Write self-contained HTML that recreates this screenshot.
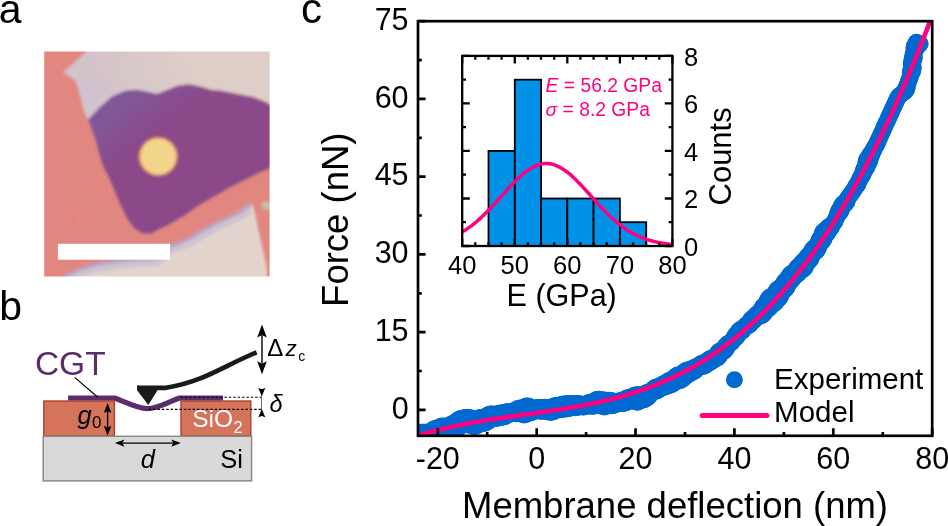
<!DOCTYPE html>
<html><head><meta charset="utf-8"><style>
html,body{margin:0;padding:0;background:#fff;}
body{width:948px;height:526px;position:relative;overflow:hidden;font-family:"Liberation Sans",sans-serif;}
</style></head><body>
<svg width="948" height="526" viewBox="0 0 948 526" style="position:absolute;left:0;top:0;will-change:transform">
<defs><clipPath id="pc"><rect x="418.0" y="21.2" width="514.2" height="414.6"/></clipPath>
<clipPath id="ic"><rect x="462.2" y="55.9" width="210.2" height="190.1"/></clipPath>
<clipPath id="mc"><rect x="44.2" y="51.4" width="225.4" height="225.1"/></clipPath>
<filter id="bl" x="0" y="0" width="948" height="526" filterUnits="userSpaceOnUse"><feGaussianBlur stdDeviation="1.4"/></filter>
</defs>
<text font-family="'Liberation Sans', sans-serif" font-size="41" x="-1.2" y="22.6">a</text>
<text font-family="'Liberation Sans', sans-serif" font-size="41" x="-0.8" y="320">b</text>
<text font-family="'Liberation Sans', sans-serif" font-size="42" x="301" y="22.6">c</text>
<defs><linearGradient id="lg" gradientUnits="userSpaceOnUse" x1="85" y1="85" x2="190" y2="55"><stop offset="0" stop-color="#D2C2CA"/><stop offset="1" stop-color="#DECEC7"/></linearGradient><linearGradient id="pg" gradientUnits="userSpaceOnUse" x1="105" y1="100" x2="140" y2="145"><stop offset="0" stop-color="#7E5A9B"/><stop offset="1" stop-color="#8B4A8A"/></linearGradient><linearGradient id="cg" gradientUnits="userSpaceOnUse" x1="190" y1="222" x2="205" y2="250"><stop offset="0" stop-color="#B8AACB"/><stop offset="0.45" stop-color="#DCCFD0"/><stop offset="1" stop-color="#E6D8CD"/></linearGradient></defs>
<g clip-path="url(#mc)"><g filter="url(#bl)">
<rect x="25" y="35" width="260" height="260" fill="#E28780"/>
<path d="M87,44 L87,51 L63.3,72.5 L76.2,81.1 L79.4,91.8 L83.7,109 L88,119.7 L99.9,106.9 L112.7,96.1 L125.6,90.7 L136.4,89.7 L147.1,91.8 L157,94 L167.7,89.7 L178.5,85.4 L189.2,84.3 L200,86.4 L210.7,89.7 L221.4,90.7 L232.2,92.9 L242.9,95 L253.7,97.2 L264.4,101.5 L275,107 L275,44 Z" fill="url(#lg)"/>
<path d="M76.2,81.1 L79.4,91.8 L83.7,109 L88,119.7 L99.9,106.9 L112.7,96.1 L125.6,90.7 L117,87.5 L104.2,82.2 L87,81.1 Z" fill="#D0C3CF"/>
<path d="M88,119.7 L99.9,106.9 L112.7,96.1 L125.6,90.7 L136.4,89.7 L147.1,91.8 L157,94 L167.7,89.7 L178.5,85.4 L189.2,84.3 L200,86.4 L210.7,89.7 L221.4,90.7 L232.2,92.9 L242.9,95 L253.7,97.2 L264.4,101.5 L275,107 L275,166 L270,168.3 L260.1,172.6 L247.2,179 L230,187.6 L215,196.2 L200,204.8 L184.9,215.6 L169.9,224.2 L157,230.6 L151.4,233.8 L142.8,233.8 L134.2,228.4 L127.8,219.9 L121.3,207 L114.9,191.9 L108.4,176.9 L102,164 L94.5,136.9 Z" fill="url(#pg)"/>
<path d="M60,290 L60,282 L67.8,276 L80,270.5 L90.6,267 L103,264 L116,262 L131,260.5 L146.3,259.5 L158,258.8 L170.4,247 L180,244 L191.9,238.5 L200,233.5 L208,229 L217.2,224 L232.4,217.7 L242,212.5 L250.1,205 L252.6,204.8 L255.2,215 L258.5,232 L262.8,250.6 L266,265 L268,290 Z" fill="#E3D5CE"/>
<path d="M60,282 L67.8,276 L80,270.5 L90.6,267 L103,264 L116,262 L131,260.5 L146.3,259.5 L158,258.8 L170.4,247 L180,244 L191.9,238.5 L200,233.5 L208,229 L217.2,224 L232.4,217.7 L242,212.5 L250.1,205" fill="none" stroke="#B3A6C8" stroke-width="5"/>
<path d="M62,284 L80,274 L103,268 L131,264.5 L158,263 L172,251 L192,242.5 L217,228 L242,216.5 L250,210" fill="none" stroke="#CFC3D0" stroke-width="6"/>
<circle cx="158.2" cy="156.5" r="19.8" fill="#D57468"/><circle cx="158.2" cy="156.5" r="18" fill="#F2D58B"/>
<rect x="262.5" y="201.8" width="8" height="7.2" fill="#BFC4AE"/>
<circle cx="73.7" cy="219" r="1.4" fill="#FA5F78"/>
</g>
<rect x="57.9" y="243.8" width="112.2" height="15.9" fill="#FFFFFF"/>
</g>
<rect x="43.8" y="401" width="70.6" height="35" fill="#D5735B" stroke="#A9432C" stroke-width="1.4"/>
<rect x="181" y="401" width="69.8" height="35" fill="#D5735B" stroke="#A9432C" stroke-width="1.4"/>
<rect x="43.2" y="436.3" width="208.4" height="44.6" fill="#D9D9D9" stroke="#8C8C8C" stroke-width="1.5"/>
<path d="M68.1,398 L114.6,398 C126,402 136,408.6 147.1,408.6 C158,408.6 168,402 179.6,398 L223,398" fill="none" stroke="#5C2D6B" stroke-width="5.2"/>
<path d="M180.4,397.3 L261,397.3 M148.6,409.4 L261,409.4" stroke="#000" stroke-width="1.1" stroke-dasharray="2.5,1.9" fill="none"/>
<path d="M137.1,385.6 L137.1,390.3 L148.3,405.1 L157.5,390.3 Z" fill="#1A1A1A"/>
<path d="M137.1,387.8 L166,387.8 C204.7,381.3 222.8,366.2 256.6,352.3" fill="none" stroke="#1A1A1A" stroke-width="4.7"/>
<path d="M74.7,377.4 L97.8,397.3" stroke="#000" stroke-width="1.2"/>
<text font-family="'Liberation Sans', sans-serif" font-size="33.5" fill="#5C2D6B" x="34.9" y="374.8">CGT</text>
<path d="M262,335.1 L262,363.7" stroke="#000" stroke-width="1.4"/><path d="M262.00,324.60 L266.80,337.60 L262.00,335.10 L257.20,337.60 Z M262.00,374.20 L257.20,361.20 L262.00,363.70 L266.80,361.20 Z" fill="#000"/>
<path d="M107.6,410.9 L107.6,427.8" stroke="#000" stroke-width="1.4"/><path d="M107.60,402.90 L111.40,412.90 L107.60,410.90 L103.80,412.90 Z M107.60,435.80 L103.80,425.80 L107.60,427.80 L111.40,425.80 Z" fill="#000"/>
<path d="M122.4,443.1 L173.3,443.1" stroke="#000" stroke-width="1.4"/><path d="M114.90,443.10 L124.40,439.40 L122.40,443.10 L124.40,446.80 Z M180.80,443.10 L171.30,446.80 L173.30,443.10 L171.30,439.40 Z" fill="#000"/>
<path d="M261.5,394 L261.5,411" stroke="#707070" stroke-width="1"/>
<path d="M261.80,396.30 L258.30,388.00 L261.80,389.30 L265.30,388.00 Z M261.80,408.90 L265.30,417.20 L261.80,415.90 L258.30,417.20 Z" fill="#000"/>
<text font-family="'Liberation Sans', sans-serif" font-size="24" x="267.3" y="355.8">&#916;</text>
<text font-family="'Liberation Sans', sans-serif" font-size="22.5" font-style="italic" x="285.5" y="356.3">z</text>
<text font-family="'Liberation Sans', sans-serif" font-size="14" x="298.2" y="361">c</text>
<text font-family="'Liberation Sans', sans-serif" font-size="23.5" font-style="italic" x="269.4" y="411.6">&#948;</text>
<text font-family="'Liberation Sans', sans-serif" font-size="25.5" font-style="italic" x="77.6" y="423.8">g</text>
<text font-family="'Liberation Sans', sans-serif" font-size="17" x="92.1" y="428.3">0</text>
<text font-family="'Liberation Sans', sans-serif" font-size="25.5" font-style="italic" x="140.8" y="467.6">d</text>
<text font-family="'Liberation Sans', sans-serif" font-size="24.5" fill="#FFFFFF" x="192.2" y="427.4">SiO</text>
<text font-family="'Liberation Sans', sans-serif" font-size="16.3" fill="#FFFFFF" x="233.6" y="433.2">2</text>
<text font-family="'Liberation Sans', sans-serif" font-size="25.5" x="220.3" y="468.4">Si</text>
<g clip-path="url(#pc)">
<g fill="#0069D0"><circle cx="411.9" cy="438.9" r="8.5"/><circle cx="410.6" cy="435.2" r="8.5"/><circle cx="413.4" cy="438.9" r="8.5"/><circle cx="412.1" cy="435.0" r="8.5"/><circle cx="415.0" cy="438.8" r="8.5"/><circle cx="413.4" cy="434.0" r="8.5"/><circle cx="416.5" cy="438.5" r="8.5"/><circle cx="414.8" cy="433.1" r="8.5"/><circle cx="417.9" cy="438.3" r="8.5"/><circle cx="417.0" cy="435.4" r="8.5"/><circle cx="416.1" cy="432.6" r="8.5"/><circle cx="419.4" cy="437.9" r="8.5"/><circle cx="417.6" cy="432.2" r="8.5"/><circle cx="420.9" cy="438.1" r="8.5"/><circle cx="420.0" cy="435.1" r="8.5"/><circle cx="419.1" cy="432.2" r="8.5"/><circle cx="422.6" cy="438.1" r="8.5"/><circle cx="421.7" cy="435.2" r="8.5"/><circle cx="420.8" cy="432.4" r="8.5"/><circle cx="424.1" cy="437.9" r="8.5"/><circle cx="422.4" cy="432.2" r="8.5"/><circle cx="425.4" cy="437.5" r="8.5"/><circle cx="423.8" cy="432.2" r="8.5"/><circle cx="426.8" cy="436.8" r="8.5"/><circle cx="425.5" cy="432.3" r="8.5"/><circle cx="428.4" cy="436.8" r="8.5"/><circle cx="427.3" cy="432.9" r="8.5"/><circle cx="430.0" cy="437.5" r="8.5"/><circle cx="428.6" cy="432.4" r="8.5"/><circle cx="431.7" cy="438.0" r="8.5"/><circle cx="430.9" cy="435.0" r="8.5"/><circle cx="430.1" cy="432.0" r="8.5"/><circle cx="433.4" cy="438.2" r="8.5"/><circle cx="432.4" cy="434.5" r="8.5"/><circle cx="431.3" cy="430.8" r="8.5"/><circle cx="434.9" cy="438.2" r="8.5"/><circle cx="433.8" cy="434.0" r="8.5"/><circle cx="432.7" cy="429.8" r="8.5"/><circle cx="436.3" cy="437.9" r="8.5"/><circle cx="435.1" cy="433.5" r="8.5"/><circle cx="433.9" cy="429.1" r="8.5"/><circle cx="437.7" cy="437.4" r="8.5"/><circle cx="436.5" cy="433.0" r="8.5"/><circle cx="435.4" cy="428.6" r="8.5"/><circle cx="439.1" cy="436.7" r="8.5"/><circle cx="438.0" cy="432.6" r="8.5"/><circle cx="437.0" cy="428.5" r="8.5"/><circle cx="440.6" cy="436.8" r="8.5"/><circle cx="439.5" cy="432.2" r="8.5"/><circle cx="438.3" cy="427.7" r="8.5"/><circle cx="442.2" cy="436.7" r="8.5"/><circle cx="440.9" cy="431.8" r="8.5"/><circle cx="439.7" cy="426.9" r="8.5"/><circle cx="443.5" cy="436.4" r="8.5"/><circle cx="442.3" cy="431.4" r="8.5"/><circle cx="441.0" cy="426.3" r="8.5"/><circle cx="444.9" cy="435.8" r="8.5"/><circle cx="443.7" cy="430.9" r="8.5"/><circle cx="442.5" cy="426.0" r="8.5"/><circle cx="446.3" cy="435.1" r="8.5"/><circle cx="445.2" cy="430.7" r="8.5"/><circle cx="444.2" cy="426.3" r="8.5"/><circle cx="447.7" cy="434.8" r="8.5"/><circle cx="446.8" cy="430.9" r="8.5"/><circle cx="445.9" cy="427.0" r="8.5"/><circle cx="449.2" cy="434.6" r="8.5"/><circle cx="448.3" cy="430.4" r="8.5"/><circle cx="447.3" cy="426.3" r="8.5"/><circle cx="450.6" cy="434.1" r="8.5"/><circle cx="449.7" cy="429.8" r="8.5"/><circle cx="448.7" cy="425.5" r="8.5"/><circle cx="451.9" cy="433.3" r="8.5"/><circle cx="450.9" cy="429.2" r="8.5"/><circle cx="450.0" cy="425.0" r="8.5"/><circle cx="453.2" cy="432.3" r="8.5"/><circle cx="452.3" cy="428.2" r="8.5"/><circle cx="451.4" cy="424.1" r="8.5"/><circle cx="454.3" cy="430.6" r="8.5"/><circle cx="453.6" cy="427.0" r="8.5"/><circle cx="452.8" cy="423.4" r="8.5"/><circle cx="455.7" cy="429.9" r="8.5"/><circle cx="455.0" cy="426.4" r="8.5"/><circle cx="454.2" cy="422.9" r="8.5"/><circle cx="457.1" cy="429.0" r="8.5"/><circle cx="456.4" cy="425.6" r="8.5"/><circle cx="455.6" cy="422.2" r="8.5"/><circle cx="458.4" cy="427.9" r="8.5"/><circle cx="457.6" cy="424.3" r="8.5"/><circle cx="456.9" cy="420.8" r="8.5"/><circle cx="459.6" cy="426.5" r="8.5"/><circle cx="458.9" cy="423.1" r="8.5"/><circle cx="458.3" cy="419.7" r="8.5"/><circle cx="460.8" cy="424.8" r="8.5"/><circle cx="459.7" cy="419.0" r="8.5"/><circle cx="462.1" cy="424.2" r="8.5"/><circle cx="461.0" cy="418.5" r="8.5"/><circle cx="463.7" cy="424.4" r="8.5"/><circle cx="463.1" cy="421.3" r="8.5"/><circle cx="462.5" cy="418.2" r="8.5"/><circle cx="465.3" cy="424.7" r="8.5"/><circle cx="464.6" cy="421.3" r="8.5"/><circle cx="464.0" cy="417.9" r="8.5"/><circle cx="466.9" cy="424.8" r="8.5"/><circle cx="466.1" cy="421.1" r="8.5"/><circle cx="465.4" cy="417.4" r="8.5"/><circle cx="468.4" cy="425.0" r="8.5"/><circle cx="467.7" cy="421.1" r="8.5"/><circle cx="467.0" cy="417.3" r="8.5"/><circle cx="470.0" cy="425.1" r="8.5"/><circle cx="469.3" cy="421.3" r="8.5"/><circle cx="468.5" cy="417.4" r="8.5"/><circle cx="471.5" cy="425.3" r="8.5"/><circle cx="470.8" cy="421.5" r="8.5"/><circle cx="470.2" cy="417.8" r="8.5"/><circle cx="473.2" cy="426.2" r="8.5"/><circle cx="472.5" cy="422.5" r="8.5"/><circle cx="471.9" cy="418.7" r="8.5"/><circle cx="474.8" cy="426.4" r="8.5"/><circle cx="474.2" cy="423.1" r="8.5"/><circle cx="473.6" cy="419.9" r="8.5"/><circle cx="476.2" cy="426.0" r="8.5"/><circle cx="475.3" cy="420.6" r="8.5"/><circle cx="477.7" cy="425.4" r="8.5"/><circle cx="477.1" cy="422.4" r="8.5"/><circle cx="476.6" cy="419.4" r="8.5"/><circle cx="479.0" cy="424.6" r="8.5"/><circle cx="478.5" cy="421.5" r="8.5"/><circle cx="478.0" cy="418.4" r="8.5"/><circle cx="480.4" cy="423.6" r="8.5"/><circle cx="479.4" cy="417.7" r="8.5"/><circle cx="481.9" cy="423.5" r="8.5"/><circle cx="481.4" cy="420.4" r="8.5"/><circle cx="480.8" cy="417.4" r="8.5"/><circle cx="483.4" cy="423.5" r="8.5"/><circle cx="482.9" cy="420.5" r="8.5"/><circle cx="482.4" cy="417.4" r="8.5"/><circle cx="484.9" cy="423.2" r="8.5"/><circle cx="484.0" cy="417.7" r="8.5"/><circle cx="486.3" cy="422.6" r="8.5"/><circle cx="485.3" cy="416.8" r="8.5"/><circle cx="487.7" cy="421.8" r="8.5"/><circle cx="487.2" cy="418.8" r="8.5"/><circle cx="486.7" cy="415.7" r="8.5"/><circle cx="489.0" cy="420.7" r="8.5"/><circle cx="488.1" cy="414.9" r="8.5"/><circle cx="490.3" cy="419.4" r="8.5"/><circle cx="489.5" cy="414.3" r="8.5"/><circle cx="491.7" cy="418.7" r="8.5"/><circle cx="491.0" cy="414.1" r="8.5"/><circle cx="493.3" cy="418.7" r="8.5"/><circle cx="492.5" cy="414.1" r="8.5"/><circle cx="494.8" cy="418.8" r="8.5"/><circle cx="494.1" cy="414.4" r="8.5"/><circle cx="496.3" cy="418.6" r="8.5"/><circle cx="495.7" cy="414.8" r="8.5"/><circle cx="497.7" cy="418.1" r="8.5"/><circle cx="497.1" cy="414.1" r="8.5"/><circle cx="499.1" cy="417.4" r="8.5"/><circle cx="498.5" cy="413.4" r="8.5"/><circle cx="500.6" cy="417.2" r="8.5"/><circle cx="500.0" cy="413.0" r="8.5"/><circle cx="502.1" cy="417.3" r="8.5"/><circle cx="501.5" cy="412.9" r="8.5"/><circle cx="503.6" cy="417.0" r="8.5"/><circle cx="503.0" cy="413.0" r="8.5"/><circle cx="505.1" cy="416.6" r="8.5"/><circle cx="504.5" cy="412.7" r="8.5"/><circle cx="506.5" cy="415.6" r="8.5"/><circle cx="505.9" cy="412.1" r="8.5"/><circle cx="507.9" cy="414.8" r="8.5"/><circle cx="507.4" cy="411.8" r="8.5"/><circle cx="509.3" cy="414.4" r="8.5"/><circle cx="508.9" cy="411.7" r="8.5"/><circle cx="510.7" cy="413.7" r="8.5"/><circle cx="510.5" cy="412.0" r="8.5"/><circle cx="512.1" cy="412.9" r="8.5"/><circle cx="512.0" cy="412.2" r="8.5"/><circle cx="513.7" cy="413.2" r="8.5"/><circle cx="513.4" cy="411.1" r="8.5"/><circle cx="515.2" cy="413.6" r="8.5"/><circle cx="514.8" cy="410.2" r="8.5"/><circle cx="516.8" cy="413.7" r="8.5"/><circle cx="516.2" cy="409.4" r="8.5"/><circle cx="518.3" cy="413.6" r="8.5"/><circle cx="517.6" cy="408.7" r="8.5"/><circle cx="519.8" cy="413.7" r="8.5"/><circle cx="519.0" cy="408.3" r="8.5"/><circle cx="521.4" cy="414.1" r="8.5"/><circle cx="520.9" cy="411.1" r="8.5"/><circle cx="520.5" cy="408.1" r="8.5"/><circle cx="523.0" cy="414.7" r="8.5"/><circle cx="522.5" cy="411.5" r="8.5"/><circle cx="522.1" cy="408.2" r="8.5"/><circle cx="524.5" cy="415.0" r="8.5"/><circle cx="524.0" cy="411.5" r="8.5"/><circle cx="523.5" cy="407.9" r="8.5"/><circle cx="525.9" cy="414.4" r="8.5"/><circle cx="525.4" cy="410.6" r="8.5"/><circle cx="524.9" cy="406.8" r="8.5"/><circle cx="527.3" cy="413.5" r="8.5"/><circle cx="526.8" cy="409.7" r="8.5"/><circle cx="526.3" cy="405.9" r="8.5"/><circle cx="528.8" cy="413.1" r="8.5"/><circle cx="528.3" cy="409.6" r="8.5"/><circle cx="527.8" cy="406.0" r="8.5"/><circle cx="530.3" cy="412.9" r="8.5"/><circle cx="529.8" cy="409.8" r="8.5"/><circle cx="529.4" cy="406.6" r="8.5"/><circle cx="531.7" cy="412.5" r="8.5"/><circle cx="531.0" cy="407.5" r="8.5"/><circle cx="533.2" cy="411.9" r="8.5"/><circle cx="532.7" cy="408.5" r="8.5"/><circle cx="534.5" cy="411.1" r="8.5"/><circle cx="534.2" cy="408.5" r="8.5"/><circle cx="535.9" cy="410.2" r="8.5"/><circle cx="535.6" cy="408.0" r="8.5"/><circle cx="537.5" cy="410.4" r="8.5"/><circle cx="537.1" cy="407.7" r="8.5"/><circle cx="539.1" cy="411.0" r="8.5"/><circle cx="538.6" cy="407.6" r="8.5"/><circle cx="540.6" cy="411.3" r="8.5"/><circle cx="540.1" cy="407.9" r="8.5"/><circle cx="542.1" cy="411.3" r="8.5"/><circle cx="541.6" cy="407.8" r="8.5"/><circle cx="543.6" cy="411.1" r="8.5"/><circle cx="543.1" cy="407.4" r="8.5"/><circle cx="545.1" cy="410.8" r="8.5"/><circle cx="544.6" cy="407.3" r="8.5"/><circle cx="546.7" cy="411.5" r="8.5"/><circle cx="546.1" cy="407.4" r="8.5"/><circle cx="548.3" cy="412.1" r="8.5"/><circle cx="547.7" cy="407.8" r="8.5"/><circle cx="549.9" cy="412.3" r="8.5"/><circle cx="549.3" cy="408.5" r="8.5"/><circle cx="551.4" cy="412.3" r="8.5"/><circle cx="550.7" cy="408.2" r="8.5"/><circle cx="552.8" cy="412.0" r="8.5"/><circle cx="552.1" cy="407.1" r="8.5"/><circle cx="554.3" cy="411.4" r="8.5"/><circle cx="553.5" cy="406.3" r="8.5"/><circle cx="555.7" cy="410.6" r="8.5"/><circle cx="554.9" cy="405.8" r="8.5"/><circle cx="557.0" cy="409.7" r="8.5"/><circle cx="556.4" cy="405.6" r="8.5"/><circle cx="558.6" cy="409.6" r="8.5"/><circle cx="557.9" cy="405.5" r="8.5"/><circle cx="560.1" cy="409.8" r="8.5"/><circle cx="559.4" cy="405.5" r="8.5"/><circle cx="561.6" cy="409.6" r="8.5"/><circle cx="560.8" cy="404.8" r="8.5"/><circle cx="563.1" cy="409.2" r="8.5"/><circle cx="562.2" cy="404.3" r="8.5"/><circle cx="564.5" cy="408.8" r="8.5"/><circle cx="563.7" cy="404.1" r="8.5"/><circle cx="566.0" cy="408.9" r="8.5"/><circle cx="565.2" cy="404.1" r="8.5"/><circle cx="567.6" cy="408.8" r="8.5"/><circle cx="566.7" cy="403.9" r="8.5"/><circle cx="569.0" cy="408.5" r="8.5"/><circle cx="568.2" cy="403.6" r="8.5"/><circle cx="570.5" cy="408.0" r="8.5"/><circle cx="569.7" cy="403.5" r="8.5"/><circle cx="571.9" cy="407.3" r="8.5"/><circle cx="571.2" cy="403.6" r="8.5"/><circle cx="573.4" cy="407.6" r="8.5"/><circle cx="572.8" cy="404.0" r="8.5"/><circle cx="575.0" cy="407.7" r="8.5"/><circle cx="574.4" cy="404.1" r="8.5"/><circle cx="576.5" cy="407.6" r="8.5"/><circle cx="575.8" cy="403.7" r="8.5"/><circle cx="578.0" cy="407.2" r="8.5"/><circle cx="577.3" cy="403.6" r="8.5"/><circle cx="579.4" cy="406.6" r="8.5"/><circle cx="578.9" cy="403.7" r="8.5"/><circle cx="580.9" cy="406.7" r="8.5"/><circle cx="580.5" cy="404.1" r="8.5"/><circle cx="582.5" cy="406.9" r="8.5"/><circle cx="582.1" cy="404.7" r="8.5"/><circle cx="584.1" cy="406.9" r="8.5"/><circle cx="583.8" cy="405.5" r="8.5"/><circle cx="585.5" cy="406.6" r="8.5"/><circle cx="585.2" cy="405.0" r="8.5"/><circle cx="587.0" cy="406.0" r="8.5"/><circle cx="586.6" cy="403.9" r="8.5"/><circle cx="588.5" cy="405.7" r="8.5"/><circle cx="587.9" cy="403.1" r="8.5"/><circle cx="590.0" cy="406.1" r="8.5"/><circle cx="589.2" cy="402.5" r="8.5"/><circle cx="591.6" cy="406.3" r="8.5"/><circle cx="590.7" cy="402.2" r="8.5"/><circle cx="593.1" cy="406.3" r="8.5"/><circle cx="592.2" cy="402.1" r="8.5"/><circle cx="594.6" cy="406.0" r="8.5"/><circle cx="593.6" cy="401.5" r="8.5"/><circle cx="596.0" cy="405.4" r="8.5"/><circle cx="595.0" cy="400.5" r="8.5"/><circle cx="597.5" cy="404.9" r="8.5"/><circle cx="596.4" cy="399.8" r="8.5"/><circle cx="599.0" cy="404.7" r="8.5"/><circle cx="597.8" cy="399.3" r="8.5"/><circle cx="600.7" cy="405.4" r="8.5"/><circle cx="600.0" cy="402.4" r="8.5"/><circle cx="599.4" cy="399.3" r="8.5"/><circle cx="602.4" cy="406.4" r="8.5"/><circle cx="601.6" cy="403.1" r="8.5"/><circle cx="600.9" cy="399.9" r="8.5"/><circle cx="604.1" cy="407.0" r="8.5"/><circle cx="603.3" cy="403.6" r="8.5"/><circle cx="602.5" cy="400.1" r="8.5"/><circle cx="605.6" cy="406.7" r="8.5"/><circle cx="604.8" cy="403.4" r="8.5"/><circle cx="604.1" cy="400.1" r="8.5"/><circle cx="607.0" cy="406.0" r="8.5"/><circle cx="605.7" cy="400.3" r="8.5"/><circle cx="608.5" cy="405.3" r="8.5"/><circle cx="607.3" cy="400.6" r="8.5"/><circle cx="610.1" cy="405.6" r="8.5"/><circle cx="608.8" cy="400.3" r="8.5"/><circle cx="611.6" cy="405.7" r="8.5"/><circle cx="610.3" cy="400.5" r="8.5"/><circle cx="613.1" cy="405.5" r="8.5"/><circle cx="612.0" cy="400.8" r="8.5"/><circle cx="614.7" cy="405.1" r="8.5"/><circle cx="613.7" cy="401.5" r="8.5"/><circle cx="616.1" cy="404.5" r="8.5"/><circle cx="615.4" cy="402.0" r="8.5"/><circle cx="617.5" cy="403.6" r="8.5"/><circle cx="617.0" cy="401.9" r="8.5"/><circle cx="618.7" cy="402.8" r="8.5"/><circle cx="618.3" cy="401.3" r="8.5"/><circle cx="620.4" cy="403.1" r="8.5"/><circle cx="619.8" cy="400.8" r="8.5"/><circle cx="622.1" cy="403.4" r="8.5"/><circle cx="621.3" cy="400.4" r="8.5"/><circle cx="623.6" cy="403.4" r="8.5"/><circle cx="622.7" cy="400.3" r="8.5"/><circle cx="625.1" cy="403.0" r="8.5"/><circle cx="624.1" cy="399.6" r="8.5"/><circle cx="626.6" cy="402.4" r="8.5"/><circle cx="625.5" cy="398.7" r="8.5"/><circle cx="628.0" cy="401.5" r="8.5"/><circle cx="626.9" cy="398.1" r="8.5"/><circle cx="629.1" cy="400.4" r="8.5"/><circle cx="628.3" cy="397.7" r="8.5"/><circle cx="630.5" cy="399.6" r="8.5"/><circle cx="629.9" cy="397.6" r="8.5"/><circle cx="632.4" cy="400.5" r="8.5"/><circle cx="631.5" cy="397.4" r="8.5"/><circle cx="634.2" cy="401.4" r="8.5"/><circle cx="632.6" cy="396.2" r="8.5"/><circle cx="636.1" cy="402.1" r="8.5"/><circle cx="635.1" cy="398.8" r="8.5"/><circle cx="634.0" cy="395.5" r="8.5"/><circle cx="637.7" cy="402.2" r="8.5"/><circle cx="636.5" cy="398.6" r="8.5"/><circle cx="635.4" cy="395.0" r="8.5"/><circle cx="639.1" cy="401.4" r="8.5"/><circle cx="638.0" cy="398.1" r="8.5"/><circle cx="637.0" cy="394.8" r="8.5"/><circle cx="640.4" cy="400.3" r="8.5"/><circle cx="638.6" cy="394.8" r="8.5"/><circle cx="641.9" cy="400.1" r="8.5"/><circle cx="640.2" cy="395.1" r="8.5"/><circle cx="643.5" cy="399.9" r="8.5"/><circle cx="642.1" cy="395.6" r="8.5"/><circle cx="644.9" cy="399.4" r="8.5"/><circle cx="643.3" cy="394.7" r="8.5"/><circle cx="646.4" cy="398.6" r="8.5"/><circle cx="644.6" cy="393.7" r="8.5"/><circle cx="647.6" cy="397.7" r="8.5"/><circle cx="645.9" cy="393.0" r="8.5"/><circle cx="648.9" cy="396.4" r="8.5"/><circle cx="647.4" cy="392.4" r="8.5"/><circle cx="649.9" cy="395.0" r="8.5"/><circle cx="648.8" cy="392.1" r="8.5"/><circle cx="650.8" cy="393.3" r="8.5"/><circle cx="650.3" cy="391.8" r="8.5"/><circle cx="652.1" cy="392.1" r="8.5"/><circle cx="651.7" cy="390.9" r="8.5"/><circle cx="653.5" cy="391.7" r="8.5"/><circle cx="652.7" cy="389.4" r="8.5"/><circle cx="655.2" cy="391.4" r="8.5"/><circle cx="654.0" cy="388.3" r="8.5"/><circle cx="656.6" cy="391.0" r="8.5"/><circle cx="655.2" cy="387.5" r="8.5"/><circle cx="657.9" cy="390.4" r="8.5"/><circle cx="656.6" cy="387.0" r="8.5"/><circle cx="659.3" cy="389.4" r="8.5"/><circle cx="658.2" cy="386.7" r="8.5"/><circle cx="660.4" cy="388.2" r="8.5"/><circle cx="659.6" cy="386.2" r="8.5"/><circle cx="661.8" cy="387.6" r="8.5"/><circle cx="660.7" cy="385.2" r="8.5"/><circle cx="663.4" cy="387.4" r="8.5"/><circle cx="662.1" cy="384.4" r="8.5"/><circle cx="664.9" cy="387.0" r="8.5"/><circle cx="663.5" cy="383.8" r="8.5"/><circle cx="666.2" cy="386.4" r="8.5"/><circle cx="665.0" cy="383.4" r="8.5"/><circle cx="667.6" cy="385.7" r="8.5"/><circle cx="666.2" cy="382.6" r="8.5"/><circle cx="669.1" cy="385.4" r="8.5"/><circle cx="667.4" cy="381.6" r="8.5"/><circle cx="670.7" cy="385.0" r="8.5"/><circle cx="668.8" cy="380.8" r="8.5"/><circle cx="672.1" cy="384.4" r="8.5"/><circle cx="670.3" cy="380.3" r="8.5"/><circle cx="673.4" cy="383.5" r="8.5"/><circle cx="671.8" cy="380.1" r="8.5"/><circle cx="674.5" cy="382.4" r="8.5"/><circle cx="673.0" cy="379.2" r="8.5"/><circle cx="675.6" cy="381.1" r="8.5"/><circle cx="674.0" cy="377.8" r="8.5"/><circle cx="677.2" cy="381.0" r="8.5"/><circle cx="675.1" cy="376.7" r="8.5"/><circle cx="678.8" cy="380.9" r="8.5"/><circle cx="676.4" cy="375.8" r="8.5"/><circle cx="680.4" cy="380.5" r="8.5"/><circle cx="677.7" cy="375.1" r="8.5"/><circle cx="681.7" cy="379.8" r="8.5"/><circle cx="679.3" cy="374.9" r="8.5"/><circle cx="683.0" cy="378.9" r="8.5"/><circle cx="680.9" cy="374.8" r="8.5"/><circle cx="684.2" cy="377.8" r="8.5"/><circle cx="682.2" cy="374.0" r="8.5"/><circle cx="685.2" cy="376.4" r="8.5"/><circle cx="683.3" cy="372.7" r="8.5"/><circle cx="686.5" cy="375.5" r="8.5"/><circle cx="684.4" cy="371.6" r="8.5"/><circle cx="687.8" cy="375.0" r="8.5"/><circle cx="685.6" cy="370.8" r="8.5"/><circle cx="689.1" cy="374.2" r="8.5"/><circle cx="687.0" cy="370.2" r="8.5"/><circle cx="690.3" cy="373.1" r="8.5"/><circle cx="688.5" cy="369.8" r="8.5"/><circle cx="691.8" cy="372.5" r="8.5"/><circle cx="690.2" cy="369.7" r="8.5"/><circle cx="693.2" cy="372.0" r="8.5"/><circle cx="691.6" cy="369.0" r="8.5"/><circle cx="694.5" cy="371.3" r="8.5"/><circle cx="692.7" cy="368.2" r="8.5"/><circle cx="695.7" cy="370.2" r="8.5"/><circle cx="694.1" cy="367.4" r="8.5"/><circle cx="696.8" cy="369.0" r="8.5"/><circle cx="695.6" cy="366.9" r="8.5"/><circle cx="697.6" cy="367.6" r="8.5"/><circle cx="697.0" cy="366.6" r="8.5"/><circle cx="699.0" cy="366.9" r="8.5"/><circle cx="698.4" cy="365.8" r="8.5"/><circle cx="700.6" cy="366.8" r="8.5"/><circle cx="699.4" cy="364.8" r="8.5"/><circle cx="702.3" cy="366.6" r="8.5"/><circle cx="700.7" cy="363.9" r="8.5"/><circle cx="703.8" cy="366.2" r="8.5"/><circle cx="702.0" cy="363.3" r="8.5"/><circle cx="705.3" cy="365.5" r="8.5"/><circle cx="703.6" cy="362.7" r="8.5"/><circle cx="706.5" cy="364.7" r="8.5"/><circle cx="705.1" cy="362.5" r="8.5"/><circle cx="707.6" cy="363.5" r="8.5"/><circle cx="706.6" cy="361.8" r="8.5"/><circle cx="709.0" cy="362.9" r="8.5"/><circle cx="707.5" cy="360.6" r="8.5"/><circle cx="710.3" cy="362.3" r="8.5"/><circle cx="708.6" cy="359.6" r="8.5"/><circle cx="711.7" cy="361.4" r="8.5"/><circle cx="710.0" cy="358.8" r="8.5"/><circle cx="712.8" cy="360.4" r="8.5"/><circle cx="711.3" cy="358.2" r="8.5"/><circle cx="714.0" cy="359.6" r="8.5"/><circle cx="712.9" cy="357.8" r="8.5"/><circle cx="715.6" cy="359.0" r="8.5"/><circle cx="714.6" cy="357.5" r="8.5"/><circle cx="717.0" cy="358.3" r="8.5"/><circle cx="715.7" cy="356.5" r="8.5"/><circle cx="718.1" cy="357.4" r="8.5"/><circle cx="716.4" cy="354.9" r="8.5"/><circle cx="719.2" cy="356.2" r="8.5"/><circle cx="717.3" cy="353.5" r="8.5"/><circle cx="720.0" cy="354.8" r="8.5"/><circle cx="718.2" cy="352.3" r="8.5"/><circle cx="720.8" cy="353.3" r="8.5"/><circle cx="719.4" cy="351.3" r="8.5"/><circle cx="722.1" cy="352.5" r="8.5"/><circle cx="720.7" cy="350.5" r="8.5"/><circle cx="723.4" cy="351.7" r="8.5"/><circle cx="722.2" cy="350.0" r="8.5"/><circle cx="724.6" cy="350.8" r="8.5"/><circle cx="723.5" cy="349.4" r="8.5"/><circle cx="725.6" cy="349.6" r="8.5"/><circle cx="724.3" cy="347.9" r="8.5"/><circle cx="726.5" cy="348.2" r="8.5"/><circle cx="725.1" cy="346.4" r="8.5"/><circle cx="727.2" cy="346.6" r="8.5"/><circle cx="726.1" cy="345.2" r="8.5"/><circle cx="727.7" cy="344.8" r="8.5"/><circle cx="727.2" cy="344.1" r="8.5"/><circle cx="728.9" cy="343.9" r="8.5"/><circle cx="728.5" cy="343.3" r="8.5"/><circle cx="730.4" cy="343.2" r="8.5"/><circle cx="729.9" cy="342.7" r="8.5"/><circle cx="731.6" cy="342.3" r="8.5"/><circle cx="731.6" cy="342.2" r="8.5"/><circle cx="732.4" cy="341.0" r="8.5"/><circle cx="733.4" cy="339.9" r="8.5"/><circle cx="733.2" cy="339.6" r="8.5"/><circle cx="734.6" cy="338.8" r="8.5"/><circle cx="733.9" cy="337.9" r="8.5"/><circle cx="735.7" cy="338.0" r="8.5"/><circle cx="734.5" cy="336.6" r="8.5"/><circle cx="736.8" cy="336.8" r="8.5"/><circle cx="735.5" cy="335.3" r="8.5"/><circle cx="737.7" cy="335.5" r="8.5"/><circle cx="736.6" cy="334.2" r="8.5"/><circle cx="738.3" cy="334.0" r="8.5"/><circle cx="737.4" cy="333.0" r="8.5"/><circle cx="739.5" cy="333.0" r="8.5"/><circle cx="738.3" cy="331.6" r="8.5"/><circle cx="740.6" cy="332.1" r="8.5"/><circle cx="739.2" cy="330.5" r="8.5"/><circle cx="741.9" cy="331.2" r="8.5"/><circle cx="740.5" cy="329.5" r="8.5"/><circle cx="742.9" cy="330.2" r="8.5"/><circle cx="741.7" cy="328.8" r="8.5"/><circle cx="743.8" cy="329.0" r="8.5"/><circle cx="743.1" cy="328.3" r="8.5"/><circle cx="744.6" cy="327.5" r="8.5"/><circle cx="744.4" cy="327.3" r="8.5"/><circle cx="745.8" cy="326.7" r="8.5"/><circle cx="745.2" cy="326.1" r="8.5"/><circle cx="747.4" cy="326.3" r="8.5"/><circle cx="746.1" cy="324.9" r="8.5"/><circle cx="748.9" cy="325.5" r="8.5"/><circle cx="747.4" cy="323.9" r="8.5"/><circle cx="749.9" cy="324.5" r="8.5"/><circle cx="748.7" cy="323.2" r="8.5"/><circle cx="750.7" cy="323.2" r="8.5"/><circle cx="749.6" cy="322.0" r="8.5"/><circle cx="751.6" cy="322.1" r="8.5"/><circle cx="750.3" cy="320.6" r="8.5"/><circle cx="753.0" cy="321.2" r="8.5"/><circle cx="751.3" cy="319.3" r="8.5"/><circle cx="754.1" cy="320.2" r="8.5"/><circle cx="752.4" cy="318.3" r="8.5"/><circle cx="755.1" cy="319.0" r="8.5"/><circle cx="753.7" cy="317.5" r="8.5"/><circle cx="756.2" cy="318.1" r="8.5"/><circle cx="754.8" cy="316.5" r="8.5"/><circle cx="757.3" cy="317.0" r="8.5"/><circle cx="755.7" cy="315.3" r="8.5"/><circle cx="758.8" cy="316.4" r="8.5"/><circle cx="756.7" cy="314.3" r="8.5"/><circle cx="760.5" cy="316.0" r="8.5"/><circle cx="757.8" cy="313.3" r="8.5"/><circle cx="762.0" cy="315.4" r="8.5"/><circle cx="759.1" cy="312.4" r="8.5"/><circle cx="763.3" cy="314.5" r="8.5"/><circle cx="760.4" cy="311.6" r="8.5"/><circle cx="764.2" cy="313.3" r="8.5"/><circle cx="761.1" cy="310.2" r="8.5"/><circle cx="764.7" cy="311.9" r="8.5"/><circle cx="761.5" cy="308.8" r="8.5"/><circle cx="765.6" cy="310.6" r="8.5"/><circle cx="762.3" cy="307.4" r="8.5"/><circle cx="767.0" cy="309.8" r="8.5"/><circle cx="763.3" cy="306.2" r="8.5"/><circle cx="768.4" cy="309.0" r="8.5"/><circle cx="764.5" cy="305.2" r="8.5"/><circle cx="769.4" cy="308.1" r="8.5"/><circle cx="765.7" cy="304.6" r="8.5"/><circle cx="770.4" cy="306.9" r="8.5"/><circle cx="766.7" cy="303.3" r="8.5"/><circle cx="771.3" cy="305.5" r="8.5"/><circle cx="767.1" cy="301.6" r="8.5"/><circle cx="772.5" cy="304.8" r="8.5"/><circle cx="770.0" cy="302.4" r="8.5"/><circle cx="767.5" cy="300.1" r="8.5"/><circle cx="773.9" cy="303.9" r="8.5"/><circle cx="771.1" cy="301.3" r="8.5"/><circle cx="768.3" cy="298.7" r="8.5"/><circle cx="775.1" cy="302.9" r="8.5"/><circle cx="772.2" cy="300.2" r="8.5"/><circle cx="769.3" cy="297.6" r="8.5"/><circle cx="776.0" cy="301.9" r="8.5"/><circle cx="773.3" cy="299.3" r="8.5"/><circle cx="770.5" cy="296.8" r="8.5"/><circle cx="776.9" cy="300.5" r="8.5"/><circle cx="774.4" cy="298.2" r="8.5"/><circle cx="772.0" cy="296.0" r="8.5"/><circle cx="778.0" cy="299.5" r="8.5"/><circle cx="775.7" cy="297.5" r="8.5"/><circle cx="773.5" cy="295.5" r="8.5"/><circle cx="779.1" cy="298.4" r="8.5"/><circle cx="774.7" cy="294.5" r="8.5"/><circle cx="780.0" cy="297.3" r="8.5"/><circle cx="777.6" cy="295.1" r="8.5"/><circle cx="775.2" cy="293.0" r="8.5"/><circle cx="780.7" cy="295.8" r="8.5"/><circle cx="778.3" cy="293.6" r="8.5"/><circle cx="775.9" cy="291.5" r="8.5"/><circle cx="781.2" cy="294.2" r="8.5"/><circle cx="778.9" cy="292.3" r="8.5"/><circle cx="776.6" cy="290.3" r="8.5"/><circle cx="781.4" cy="292.5" r="8.5"/><circle cx="777.6" cy="289.2" r="8.5"/><circle cx="782.4" cy="291.3" r="8.5"/><circle cx="778.9" cy="288.2" r="8.5"/><circle cx="783.8" cy="290.6" r="8.5"/><circle cx="780.3" cy="287.5" r="8.5"/><circle cx="785.0" cy="289.7" r="8.5"/><circle cx="781.8" cy="286.9" r="8.5"/><circle cx="786.0" cy="288.6" r="8.5"/><circle cx="782.6" cy="285.7" r="8.5"/><circle cx="786.9" cy="287.2" r="8.5"/><circle cx="783.2" cy="284.1" r="8.5"/><circle cx="787.5" cy="285.8" r="8.5"/><circle cx="783.8" cy="282.7" r="8.5"/><circle cx="787.9" cy="284.2" r="8.5"/><circle cx="784.6" cy="281.5" r="8.5"/><circle cx="788.8" cy="283.0" r="8.5"/><circle cx="785.7" cy="280.5" r="8.5"/><circle cx="790.0" cy="282.1" r="8.5"/><circle cx="786.9" cy="279.6" r="8.5"/><circle cx="791.0" cy="281.1" r="8.5"/><circle cx="787.9" cy="278.5" r="8.5"/><circle cx="792.0" cy="280.0" r="8.5"/><circle cx="788.5" cy="277.1" r="8.5"/><circle cx="792.9" cy="278.8" r="8.5"/><circle cx="789.2" cy="275.7" r="8.5"/><circle cx="793.6" cy="277.4" r="8.5"/><circle cx="790.1" cy="274.6" r="8.5"/><circle cx="794.4" cy="276.1" r="8.5"/><circle cx="791.2" cy="273.5" r="8.5"/><circle cx="795.9" cy="275.4" r="8.5"/><circle cx="792.5" cy="272.7" r="8.5"/><circle cx="797.2" cy="274.5" r="8.5"/><circle cx="794.0" cy="272.0" r="8.5"/><circle cx="798.4" cy="273.5" r="8.5"/><circle cx="795.4" cy="271.1" r="8.5"/><circle cx="799.3" cy="272.2" r="8.5"/><circle cx="796.0" cy="269.6" r="8.5"/><circle cx="800.2" cy="271.0" r="8.5"/><circle cx="796.7" cy="268.3" r="8.5"/><circle cx="801.8" cy="270.3" r="8.5"/><circle cx="797.7" cy="267.1" r="8.5"/><circle cx="803.0" cy="269.5" r="8.5"/><circle cx="798.8" cy="266.3" r="8.5"/><circle cx="804.2" cy="268.4" r="8.5"/><circle cx="800.1" cy="265.3" r="8.5"/><circle cx="805.1" cy="267.2" r="8.5"/><circle cx="800.8" cy="264.0" r="8.5"/><circle cx="805.7" cy="265.7" r="8.5"/><circle cx="801.7" cy="262.7" r="8.5"/><circle cx="805.9" cy="264.1" r="8.5"/><circle cx="802.7" cy="261.7" r="8.5"/><circle cx="806.6" cy="262.7" r="8.5"/><circle cx="804.0" cy="260.7" r="8.5"/><circle cx="808.0" cy="261.8" r="8.5"/><circle cx="805.3" cy="259.8" r="8.5"/><circle cx="809.2" cy="260.9" r="8.5"/><circle cx="806.0" cy="258.6" r="8.5"/><circle cx="810.3" cy="259.7" r="8.5"/><circle cx="806.8" cy="257.2" r="8.5"/><circle cx="811.0" cy="258.6" r="8.5"/><circle cx="807.7" cy="256.2" r="8.5"/><circle cx="811.6" cy="257.1" r="8.5"/><circle cx="808.9" cy="255.1" r="8.5"/><circle cx="811.9" cy="255.6" r="8.5"/><circle cx="810.1" cy="254.3" r="8.5"/><circle cx="812.3" cy="253.9" r="8.5"/><circle cx="811.0" cy="252.9" r="8.5"/><circle cx="813.6" cy="253.1" r="8.5"/><circle cx="811.4" cy="251.5" r="8.5"/><circle cx="815.1" cy="252.1" r="8.5"/><circle cx="812.1" cy="250.0" r="8.5"/><circle cx="816.2" cy="251.2" r="8.5"/><circle cx="812.9" cy="248.9" r="8.5"/><circle cx="817.2" cy="249.9" r="8.5"/><circle cx="814.1" cy="247.7" r="8.5"/><circle cx="818.0" cy="248.7" r="8.5"/><circle cx="815.3" cy="246.8" r="8.5"/><circle cx="818.5" cy="247.3" r="8.5"/><circle cx="816.8" cy="246.1" r="8.5"/><circle cx="818.9" cy="245.6" r="8.5"/><circle cx="818.0" cy="245.0" r="8.5"/><circle cx="819.2" cy="244.1" r="8.5"/><circle cx="818.2" cy="243.4" r="8.5"/><circle cx="820.5" cy="243.2" r="8.5"/><circle cx="818.4" cy="241.8" r="8.5"/><circle cx="821.8" cy="242.1" r="8.5"/><circle cx="819.0" cy="240.2" r="8.5"/><circle cx="822.8" cy="241.0" r="8.5"/><circle cx="819.7" cy="238.9" r="8.5"/><circle cx="823.5" cy="239.8" r="8.5"/><circle cx="820.6" cy="237.8" r="8.5"/><circle cx="824.1" cy="238.4" r="8.5"/><circle cx="821.6" cy="236.7" r="8.5"/><circle cx="824.5" cy="236.6" r="8.5"/><circle cx="822.0" cy="235.0" r="8.5"/><circle cx="825.2" cy="235.3" r="8.5"/><circle cx="822.3" cy="233.4" r="8.5"/><circle cx="826.3" cy="234.3" r="8.5"/><circle cx="822.8" cy="232.0" r="8.5"/><circle cx="827.3" cy="233.2" r="8.5"/><circle cx="824.0" cy="231.0" r="8.5"/><circle cx="828.0" cy="231.9" r="8.5"/><circle cx="825.3" cy="230.1" r="8.5"/><circle cx="828.5" cy="230.5" r="8.5"/><circle cx="826.3" cy="229.0" r="8.5"/><circle cx="829.6" cy="229.4" r="8.5"/><circle cx="827.3" cy="227.9" r="8.5"/><circle cx="830.7" cy="228.3" r="8.5"/><circle cx="828.4" cy="226.9" r="8.5"/><circle cx="831.5" cy="227.0" r="8.5"/><circle cx="829.8" cy="226.0" r="8.5"/><circle cx="832.0" cy="225.6" r="8.5"/><circle cx="831.4" cy="225.2" r="8.5"/><circle cx="832.4" cy="224.1" r="8.5"/><circle cx="833.6" cy="223.0" r="8.5"/><circle cx="833.4" cy="222.9" r="8.5"/><circle cx="834.6" cy="221.9" r="8.5"/><circle cx="834.5" cy="221.8" r="8.5"/><circle cx="835.1" cy="220.4" r="8.5"/><circle cx="835.8" cy="219.0" r="8.5"/><circle cx="836.4" cy="217.6" r="8.5"/><circle cx="837.1" cy="216.2" r="8.5"/><circle cx="837.6" cy="215.0" r="8.5"/><circle cx="838.5" cy="213.8" r="8.5"/><circle cx="837.8" cy="213.3" r="8.5"/><circle cx="839.7" cy="212.6" r="8.5"/><circle cx="838.3" cy="211.8" r="8.5"/><circle cx="840.6" cy="211.4" r="8.5"/><circle cx="839.0" cy="210.4" r="8.5"/><circle cx="841.3" cy="210.0" r="8.5"/><circle cx="839.9" cy="209.1" r="8.5"/><circle cx="841.6" cy="208.6" r="8.5"/><circle cx="840.8" cy="208.2" r="8.5"/><circle cx="841.8" cy="206.9" r="8.5"/><circle cx="841.2" cy="206.6" r="8.5"/><circle cx="843.0" cy="205.8" r="8.5"/><circle cx="841.9" cy="205.1" r="8.5"/><circle cx="844.2" cy="205.0" r="8.5"/><circle cx="842.7" cy="204.1" r="8.5"/><circle cx="845.4" cy="203.8" r="8.5"/><circle cx="843.8" cy="202.9" r="8.5"/><circle cx="846.4" cy="202.6" r="8.5"/><circle cx="845.2" cy="201.9" r="8.5"/><circle cx="846.9" cy="201.4" r="8.5"/><circle cx="846.6" cy="201.2" r="8.5"/><circle cx="847.4" cy="199.8" r="8.5"/><circle cx="847.4" cy="199.8" r="8.5"/><circle cx="847.8" cy="198.1" r="8.5"/><circle cx="848.6" cy="197.0" r="8.5"/><circle cx="849.6" cy="195.7" r="8.5"/><circle cx="850.4" cy="194.7" r="8.5"/><circle cx="851.4" cy="193.3" r="8.5"/><circle cx="852.2" cy="192.2" r="8.5"/><circle cx="853.1" cy="190.9" r="8.5"/><circle cx="853.9" cy="189.7" r="8.5"/><circle cx="854.8" cy="188.3" r="8.5"/><circle cx="855.5" cy="187.2" r="8.5"/><circle cx="856.5" cy="185.8" r="8.5"/><circle cx="856.1" cy="185.6" r="8.5"/><circle cx="857.6" cy="184.8" r="8.5"/><circle cx="857.2" cy="184.6" r="8.5"/><circle cx="857.9" cy="183.4" r="8.5"/><circle cx="858.6" cy="181.8" r="8.5"/><circle cx="859.2" cy="180.6" r="8.5"/><circle cx="859.7" cy="179.3" r="8.5"/><circle cx="860.4" cy="177.7" r="8.5"/><circle cx="860.4" cy="177.7" r="8.5"/><circle cx="861.5" cy="176.7" r="8.5"/><circle cx="861.1" cy="176.5" r="8.5"/><circle cx="862.3" cy="175.5" r="8.5"/><circle cx="862.0" cy="175.3" r="8.5"/><circle cx="863.1" cy="174.0" r="8.5"/><circle cx="862.9" cy="173.9" r="8.5"/><circle cx="863.5" cy="172.6" r="8.5"/><circle cx="863.0" cy="172.3" r="8.5"/><circle cx="863.7" cy="171.1" r="8.5"/><circle cx="863.2" cy="170.8" r="8.5"/><circle cx="864.7" cy="170.0" r="8.5"/><circle cx="863.7" cy="169.4" r="8.5"/><circle cx="865.7" cy="168.9" r="8.5"/><circle cx="864.4" cy="168.2" r="8.5"/><circle cx="866.6" cy="167.4" r="8.5"/><circle cx="865.4" cy="166.8" r="8.5"/><circle cx="867.2" cy="166.0" r="8.5"/><circle cx="866.1" cy="165.5" r="8.5"/><circle cx="867.5" cy="164.6" r="8.5"/><circle cx="866.0" cy="163.8" r="8.5"/><circle cx="868.3" cy="163.3" r="8.5"/><circle cx="866.0" cy="162.2" r="8.5"/><circle cx="869.1" cy="162.1" r="8.5"/><circle cx="866.3" cy="160.7" r="8.5"/><circle cx="869.7" cy="160.8" r="8.5"/><circle cx="866.9" cy="159.3" r="8.5"/><circle cx="870.2" cy="159.0" r="8.5"/><circle cx="868.1" cy="157.9" r="8.5"/><circle cx="870.3" cy="157.5" r="8.5"/><circle cx="869.0" cy="156.8" r="8.5"/><circle cx="871.0" cy="156.1" r="8.5"/><circle cx="869.6" cy="155.4" r="8.5"/><circle cx="871.7" cy="154.8" r="8.5"/><circle cx="870.3" cy="154.1" r="8.5"/><circle cx="872.1" cy="153.4" r="8.5"/><circle cx="871.2" cy="152.9" r="8.5"/><circle cx="872.7" cy="152.0" r="8.5"/><circle cx="873.4" cy="150.6" r="8.5"/><circle cx="873.8" cy="149.2" r="8.5"/><circle cx="873.5" cy="149.0" r="8.5"/><circle cx="874.5" cy="147.9" r="8.5"/><circle cx="874.2" cy="147.7" r="8.5"/><circle cx="875.4" cy="146.6" r="8.5"/><circle cx="876.0" cy="145.2" r="8.5"/><circle cx="876.9" cy="144.0" r="8.5"/><circle cx="876.6" cy="143.8" r="8.5"/><circle cx="877.5" cy="142.6" r="8.5"/><circle cx="877.3" cy="142.5" r="8.5"/><circle cx="877.8" cy="141.4" r="8.5"/><circle cx="878.5" cy="140.0" r="8.5"/><circle cx="879.1" cy="138.6" r="8.5"/><circle cx="879.7" cy="137.2" r="8.5"/><circle cx="880.4" cy="135.8" r="8.5"/><circle cx="881.0" cy="134.4" r="8.5"/><circle cx="881.7" cy="133.0" r="8.5"/><circle cx="882.3" cy="131.6" r="8.5"/><circle cx="882.8" cy="130.4" r="8.5"/><circle cx="883.5" cy="129.0" r="8.5"/><circle cx="884.1" cy="127.5" r="8.5"/><circle cx="884.7" cy="126.1" r="8.5"/><circle cx="885.2" cy="125.0" r="8.5"/><circle cx="885.9" cy="123.5" r="8.5"/><circle cx="886.6" cy="122.1" r="8.5"/><circle cx="887.3" cy="120.7" r="8.5"/><circle cx="887.8" cy="119.5" r="8.5"/><circle cx="888.5" cy="118.0" r="8.5"/><circle cx="889.1" cy="116.6" r="8.5"/><circle cx="889.7" cy="115.4" r="8.5"/><circle cx="890.3" cy="113.9" r="8.5"/><circle cx="891.0" cy="112.5" r="8.5"/><circle cx="891.5" cy="111.3" r="8.5"/><circle cx="892.2" cy="109.8" r="8.5"/><circle cx="892.7" cy="108.6" r="8.5"/><circle cx="893.4" cy="107.2" r="8.5"/><circle cx="894.1" cy="105.7" r="8.5"/><circle cx="894.6" cy="104.5" r="8.5"/><circle cx="895.3" cy="103.0" r="8.5"/><circle cx="895.9" cy="101.8" r="8.5"/><circle cx="896.6" cy="100.3" r="8.5"/><circle cx="897.1" cy="99.1" r="8.5"/><circle cx="897.9" cy="97.6" r="8.5"/><circle cx="898.6" cy="96.5" r="8.5"/><circle cx="900.0" cy="95.2" r="8.5"/><circle cx="901.3" cy="94.3" r="8.5"/><circle cx="902.7" cy="93.1" r="8.5"/><circle cx="904.0" cy="92.2" r="8.5"/><circle cx="905.5" cy="91.0" r="8.5"/><circle cx="904.7" cy="90.7" r="8.5"/><circle cx="906.3" cy="89.9" r="8.5"/><circle cx="905.1" cy="89.4" r="8.5"/><circle cx="906.9" cy="88.3" r="8.5"/><circle cx="905.9" cy="87.8" r="8.5"/><circle cx="907.2" cy="86.9" r="8.5"/><circle cx="906.7" cy="86.7" r="8.5"/><circle cx="907.0" cy="85.4" r="8.5"/><circle cx="907.6" cy="83.8" r="8.5"/><circle cx="908.1" cy="82.5" r="8.5"/><circle cx="908.7" cy="80.9" r="8.5"/><circle cx="909.2" cy="79.6" r="8.5"/><circle cx="909.7" cy="78.3" r="8.5"/><circle cx="910.3" cy="76.6" r="8.5"/><circle cx="910.6" cy="75.3" r="8.5"/><circle cx="910.6" cy="73.8" r="8.5"/><circle cx="910.4" cy="73.7" r="8.5"/><circle cx="911.7" cy="72.7" r="8.5"/><circle cx="910.4" cy="72.2" r="8.5"/><circle cx="912.5" cy="71.2" r="8.5"/><circle cx="910.7" cy="70.4" r="8.5"/><circle cx="912.9" cy="69.8" r="8.5"/><circle cx="911.2" cy="69.1" r="8.5"/><circle cx="913.1" cy="68.3" r="8.5"/><circle cx="911.9" cy="67.9" r="8.5"/><circle cx="913.1" cy="66.4" r="8.5"/><circle cx="911.8" cy="65.9" r="8.5"/><circle cx="912.7" cy="64.8" r="8.5"/><circle cx="911.5" cy="64.3" r="8.5"/><circle cx="912.3" cy="63.0" r="8.5"/><circle cx="911.5" cy="62.7" r="8.5"/><circle cx="912.8" cy="61.7" r="8.5"/><circle cx="911.7" cy="61.3" r="8.5"/><circle cx="913.6" cy="60.1" r="8.5"/><circle cx="912.3" cy="59.6" r="8.5"/><circle cx="914.0" cy="58.8" r="8.5"/><circle cx="912.8" cy="58.3" r="8.5"/><circle cx="914.2" cy="57.3" r="8.5"/><circle cx="912.8" cy="56.7" r="8.5"/><circle cx="914.1" cy="55.7" r="8.5"/><circle cx="912.9" cy="55.2" r="8.5"/><circle cx="913.8" cy="54.1" r="8.5"/><circle cx="913.3" cy="53.8" r="8.5"/><circle cx="914.1" cy="52.6" r="8.5"/><circle cx="913.9" cy="52.5" r="8.5"/><circle cx="914.9" cy="51.0" r="8.5"/><circle cx="914.5" cy="50.8" r="8.5"/><circle cx="915.3" cy="49.6" r="8.5"/><circle cx="914.1" cy="49.1" r="8.5"/><circle cx="916.1" cy="48.4" r="8.5"/><circle cx="914.0" cy="47.5" r="8.5"/><circle cx="916.7" cy="47.1" r="8.5"/><circle cx="914.4" cy="46.1" r="8.5"/><circle cx="917.7" cy="45.9" r="8.5"/><circle cx="915.3" cy="44.9" r="8.5"/><circle cx="919.1" cy="44.9" r="8.5"/><circle cx="915.8" cy="43.6" r="8.5"/><circle cx="920.2" cy="43.8" r="8.5"/><circle cx="916.4" cy="42.2" r="8.5"/></g>
<polyline points="415.5,436.5 417.3,435.9 419.0,435.4 420.8,434.9 422.5,434.3 424.3,433.8 426.0,433.3 427.7,432.8 429.5,432.3 431.2,431.8 433.0,431.4 434.7,430.9 436.5,430.4 438.2,430.0 440.0,429.6 441.7,429.1 443.4,428.7 445.2,428.3 446.9,427.9 448.7,427.5 450.4,427.1 452.2,426.7 453.9,426.3 455.7,425.9 457.4,425.6 459.1,425.2 460.9,424.8 462.6,424.5 464.4,424.1 466.1,423.8 467.9,423.5 469.6,423.1 471.4,422.8 473.1,422.5 474.8,422.2 476.6,421.9 478.3,421.6 480.1,421.3 481.8,421.0 483.6,420.7 485.3,420.4 487.1,420.1 488.8,419.8 490.5,419.6 492.3,419.3 494.0,419.0 495.8,418.7 497.5,418.5 499.3,418.2 501.0,418.0 502.8,417.7 504.5,417.4 506.2,417.2 508.0,416.9 509.7,416.7 511.5,416.4 513.2,416.2 515.0,415.9 516.7,415.7 518.5,415.4 520.2,415.2 521.9,414.9 523.7,414.7 525.4,414.5 527.2,414.2 528.9,414.0 530.7,413.7 532.4,413.5 534.2,413.2 535.9,413.0 537.6,412.7 539.4,412.5 541.1,412.2 542.9,412.0 544.6,411.7 546.4,411.5 548.1,411.2 549.9,411.0 551.6,410.7 553.3,410.4 555.1,410.2 556.8,409.9 558.6,409.6 560.3,409.3 562.1,409.1 563.8,408.8 565.6,408.5 567.3,408.2 569.0,407.9 570.8,407.6 572.5,407.3 574.3,407.0 576.0,406.7 577.8,406.4 579.5,406.0 581.3,405.7 583.0,405.4 584.7,405.1 586.5,404.7 588.2,404.4 590.0,404.0 591.7,403.6 593.5,403.3 595.2,402.9 597.0,402.5 598.7,402.1 600.4,401.8 602.2,401.4 603.9,400.9 605.7,400.5 607.4,400.1 609.2,399.7 610.9,399.2 612.7,398.8 614.4,398.3 616.1,397.9 617.9,397.4 619.6,396.9 621.4,396.5 623.1,396.0 624.9,395.5 626.6,394.9 628.4,394.4 630.1,393.9 631.9,393.3 633.6,392.8 635.3,392.2 637.1,391.7 638.8,391.1 640.6,390.5 642.3,389.9 644.1,389.3 645.8,388.6 647.6,388.0 649.3,387.3 651.0,386.7 652.8,386.0 654.5,385.3 656.3,384.6 658.0,383.9 659.8,383.2 661.5,382.5 663.3,381.7 665.0,381.0 666.7,380.2 668.5,379.4 670.2,378.6 672.0,377.8 673.7,377.0 675.5,376.1 677.2,375.3 679.0,374.4 680.7,373.6 682.4,372.7 684.2,371.7 685.9,370.8 687.7,369.9 689.4,368.9 691.2,368.0 692.9,367.0 694.7,366.0 696.4,365.0 698.1,363.9 699.9,362.9 701.6,361.8 703.4,360.7 705.1,359.6 706.9,358.5 708.6,357.4 710.4,356.3 712.1,355.1 713.8,353.9 715.6,352.7 717.3,351.5 719.1,350.3 720.8,349.0 722.6,347.7 724.3,346.5 726.1,345.1 727.8,343.8 729.5,342.5 731.3,341.1 733.0,339.7 734.8,338.3 736.5,336.9 738.3,335.5 740.0,334.0 741.8,332.5 743.5,331.0 745.2,329.5 747.0,328.0 748.7,326.4 750.5,324.8 752.2,323.2 754.0,321.6 755.7,320.0 757.5,318.3 759.2,316.6 760.9,314.9 762.7,313.2 764.4,311.4 766.2,309.6 767.9,307.8 769.7,306.0 771.4,304.2 773.2,302.3 774.9,300.4 776.6,298.5 778.4,296.6 780.1,294.6 781.9,292.7 783.6,290.6 785.4,288.6 787.1,286.6 788.9,284.5 790.6,282.4 792.3,280.3 794.1,278.1 795.8,275.9 797.6,273.7 799.3,271.5 801.1,269.3 802.8,267.0 804.6,264.7 806.3,262.4 808.0,260.0 809.8,257.6 811.5,255.2 813.3,252.8 815.0,250.3 816.8,247.8 818.5,245.3 820.3,242.8 822.0,240.2 823.7,237.6 825.5,235.0 827.2,232.3 829.0,229.7 830.7,227.0 832.5,224.2 834.2,221.5 836.0,218.7 837.7,215.9 839.5,213.0 841.2,210.1 842.9,207.2 844.7,204.3 846.4,201.3 848.2,198.3 849.9,195.3 851.7,192.2 853.4,189.1 855.2,186.0 856.9,182.9 858.6,179.7 860.4,176.5 862.1,173.3 863.9,170.0 865.6,166.7 867.4,163.4 869.1,160.0 870.9,156.6 872.6,153.2 874.3,149.7 876.1,146.2 877.8,142.7 879.6,139.1 881.3,135.5 883.1,131.9 884.8,128.3 886.6,124.6 888.3,120.8 890.0,117.1 891.8,113.3 893.5,109.5 895.3,105.6 897.0,101.7 898.8,97.8 900.5,93.8 902.3,89.8 904.0,85.8 905.7,81.7 907.5,77.6 909.2,73.5 911.0,69.3 912.7,65.1 914.5,60.9 916.2,56.6 918.0,52.3 919.7,47.9 921.4,43.5 923.2,39.1 924.9,34.6 926.7,30.1 928.4,25.6 930.2,21.0 931.9,16.4 933.7,11.8 935.4,7.1 937.1,2.4" fill="none" stroke="#FF0080" stroke-width="4.6"/>
</g>
<rect x="418.0" y="21.2" width="514.2" height="414.6" fill="none" stroke="#000" stroke-width="2.7"/>
<path d="M418.0,409.9 L425.6,409.9 M418.0,371.0 L421.8,371.0 M418.0,332.1 L425.6,332.1 M418.0,293.3 L421.8,293.3 M418.0,254.4 L425.6,254.4 M418.0,215.5 L421.8,215.5 M418.0,176.7 L425.6,176.7 M418.0,137.8 L421.8,137.8 M418.0,98.9 L425.6,98.9 M418.0,60.1 L421.8,60.1 M418.0,21.2 L425.6,21.2 M437.8,435.8 L437.8,428.2 M487.2,435.8 L487.2,432.0 M536.7,435.8 L536.7,428.2 M586.1,435.8 L586.1,432.0 M635.5,435.8 L635.5,428.2 M685.0,435.8 L685.0,432.0 M734.4,435.8 L734.4,428.2 M783.9,435.8 L783.9,432.0 M833.3,435.8 L833.3,428.2 M882.8,435.8 L882.8,432.0 M932.2,435.8 L932.2,428.2" stroke="#000" stroke-width="2.7"/>
<text font-family="'Liberation Sans', sans-serif" font-size="30.5" text-anchor="end" x="408.6" y="418.5">0</text>
<text font-family="'Liberation Sans', sans-serif" font-size="30.5" text-anchor="end" x="408.6" y="340.8">15</text>
<text font-family="'Liberation Sans', sans-serif" font-size="30.5" text-anchor="end" x="408.6" y="263.0">30</text>
<text font-family="'Liberation Sans', sans-serif" font-size="30.5" text-anchor="end" x="408.6" y="185.3">45</text>
<text font-family="'Liberation Sans', sans-serif" font-size="30.5" text-anchor="end" x="408.6" y="107.5">60</text>
<text font-family="'Liberation Sans', sans-serif" font-size="30.5" text-anchor="end" x="408.6" y="29.8">75</text>
<text font-family="'Liberation Sans', sans-serif" font-size="30.5" text-anchor="middle" x="437.8" y="468.6">-20</text>
<text font-family="'Liberation Sans', sans-serif" font-size="30.5" text-anchor="middle" x="536.7" y="468.6">0</text>
<text font-family="'Liberation Sans', sans-serif" font-size="30.5" text-anchor="middle" x="635.5" y="468.6">20</text>
<text font-family="'Liberation Sans', sans-serif" font-size="30.5" text-anchor="middle" x="734.4" y="468.6">40</text>
<text font-family="'Liberation Sans', sans-serif" font-size="30.5" text-anchor="middle" x="833.3" y="468.6">60</text>
<text font-family="'Liberation Sans', sans-serif" font-size="30.5" text-anchor="middle" x="932.2" y="468.6">80</text>
<text font-family="'Liberation Sans', sans-serif" font-size="36.5" x="462" y="517.8">Membrane deflection (nm)</text>
<text font-family="'Liberation Sans', sans-serif" font-size="36.5" transform="translate(347.8,306.9) rotate(-90)">Force (nN)</text>
<circle cx="734.4" cy="379.8" r="8.5" fill="#0069D0"/>
<path d="M702.2,415.5 L767,415.5" stroke="#FF0080" stroke-width="5" stroke-linecap="round"/>
<text font-family="'Liberation Sans', sans-serif" font-size="29.5" x="774.1" y="389.4">Experiment</text>
<text font-family="'Liberation Sans', sans-serif" font-size="29.5" x="774.1" y="422.3">Model</text>
<rect x="462.2" y="55.9" width="210.2" height="190.1" fill="#fff"/>
<rect x="488.5" y="150.9" width="26.3" height="95.1" fill="#0091E8" stroke="#000" stroke-width="1.8"/>
<rect x="514.8" y="79.7" width="26.3" height="166.3" fill="#0091E8" stroke="#000" stroke-width="1.8"/>
<rect x="541.0" y="198.5" width="26.3" height="47.5" fill="#0091E8" stroke="#000" stroke-width="1.8"/>
<rect x="567.3" y="198.5" width="26.3" height="47.5" fill="#0091E8" stroke="#000" stroke-width="1.8"/>
<rect x="593.6" y="198.5" width="26.3" height="47.5" fill="#0091E8" stroke="#000" stroke-width="1.8"/>
<rect x="619.9" y="222.2" width="26.3" height="23.8" fill="#0091E8" stroke="#000" stroke-width="1.8"/>
<g clip-path="url(#ic)"><polyline points="456.9,234.8 458.1,234.3 459.2,233.7 460.3,233.1 461.4,232.5 462.5,231.8 463.6,231.1 464.7,230.4 465.8,229.7 466.9,229.0 468.0,228.2 469.1,227.4 470.3,226.6 471.4,225.8 472.5,224.9 473.6,224.1 474.7,223.2 475.8,222.3 476.9,221.3 478.0,220.4 479.1,219.4 480.2,218.4 481.3,217.3 482.5,216.3 483.6,215.2 484.7,214.1 485.8,213.0 486.9,211.9 488.0,210.8 489.1,209.7 490.2,208.5 491.3,207.3 492.4,206.1 493.5,204.9 494.7,203.7 495.8,202.5 496.9,201.3 498.0,200.0 499.1,198.8 500.2,197.6 501.3,196.3 502.4,195.1 503.5,193.8 504.6,192.6 505.7,191.4 506.9,190.1 508.0,188.9 509.1,187.7 510.2,186.5 511.3,185.3 512.4,184.2 513.5,183.0 514.6,181.9 515.7,180.7 516.8,179.6 517.9,178.6 519.1,177.5 520.2,176.5 521.3,175.5 522.4,174.5 523.5,173.6 524.6,172.7 525.7,171.8 526.8,171.0 527.9,170.2 529.0,169.5 530.1,168.8 531.3,168.1 532.4,167.5 533.5,166.9 534.6,166.3 535.7,165.8 536.8,165.4 537.9,165.0 539.0,164.6 540.1,164.3 541.2,164.1 542.3,163.9 543.5,163.7 544.6,163.6 545.7,163.6 546.8,163.5 547.9,163.6 549.0,163.7 550.1,163.8 551.2,164.0 552.3,164.3 553.4,164.6 554.5,164.9 555.7,165.3 556.8,165.8 557.9,166.3 559.0,166.8 560.1,167.4 561.2,168.0 562.3,168.7 563.4,169.4 564.5,170.1 565.6,170.9 566.7,171.8 567.9,172.6 569.0,173.5 570.1,174.4 571.2,175.4 572.3,176.4 573.4,177.4 574.5,178.5 575.6,179.5 576.7,180.6 577.8,181.8 578.9,182.9 580.1,184.0 581.2,185.2 582.3,186.4 583.4,187.6 584.5,188.8 585.6,190.0 586.7,191.3 587.8,192.5 588.9,193.7 590.0,195.0 591.1,196.2 592.3,197.5 593.4,198.7 594.5,199.9 595.6,201.2 596.7,202.4 597.8,203.6 598.9,204.8 600.0,206.0 601.1,207.2 602.2,208.4 603.3,209.5 604.5,210.7 605.6,211.8 606.7,212.9 607.8,214.0 608.9,215.1 610.0,216.2 611.1,217.2 612.2,218.3 613.3,219.3 614.4,220.3 615.5,221.2 616.7,222.2 617.8,223.1 618.9,224.0 620.0,224.9 621.1,225.7 622.2,226.6 623.3,227.4 624.4,228.1 625.5,228.9 626.6,229.7 627.7,230.4 628.9,231.1 630.0,231.7 631.1,232.4 632.2,233.0 633.3,233.6 634.4,234.2 635.5,234.8 636.6,235.3 637.7,235.9 638.8,236.4 639.9,236.9 641.1,237.3 642.2,237.8 643.3,238.2 644.4,238.6 645.5,239.0 646.6,239.4 647.7,239.7 648.8,240.1 649.9,240.4 651.0,240.7 652.1,241.0 653.3,241.3 654.4,241.6 655.5,241.8 656.6,242.1 657.7,242.3 658.8,242.5 659.9,242.8 661.0,243.0 662.1,243.1 663.2,243.3 664.3,243.5 665.5,243.7 666.6,243.8 667.7,243.9 668.8,244.1 669.9,244.2 671.0,244.3 672.1,244.4 673.2,244.5 674.3,244.6 675.4,244.7 676.5,244.8 677.7,244.9" fill="none" stroke="#FF0080" stroke-width="3.5"/></g>
<rect x="462.2" y="55.9" width="210.2" height="190.1" fill="none" stroke="#000" stroke-width="2.3"/>
<path d="M462.2,246.0 L462.2,238.4 M462.2,55.9 L462.2,63.5 M475.3,246.0 L475.3,242.2 M475.3,55.9 L475.3,59.699999999999996 M488.5,246.0 L488.5,242.2 M488.5,55.9 L488.5,59.699999999999996 M501.6,246.0 L501.6,242.2 M501.6,55.9 L501.6,59.699999999999996 M514.8,246.0 L514.8,238.4 M514.8,55.9 L514.8,63.5 M527.9,246.0 L527.9,242.2 M527.9,55.9 L527.9,59.699999999999996 M541.0,246.0 L541.0,242.2 M541.0,55.9 L541.0,59.699999999999996 M554.2,246.0 L554.2,242.2 M554.2,55.9 L554.2,59.699999999999996 M567.3,246.0 L567.3,238.4 M567.3,55.9 L567.3,63.5 M580.4,246.0 L580.4,242.2 M580.4,55.9 L580.4,59.699999999999996 M593.6,246.0 L593.6,242.2 M593.6,55.9 L593.6,59.699999999999996 M606.7,246.0 L606.7,242.2 M606.7,55.9 L606.7,59.699999999999996 M619.9,246.0 L619.9,238.4 M619.9,55.9 L619.9,63.5 M633.0,246.0 L633.0,242.2 M633.0,55.9 L633.0,59.699999999999996 M646.1,246.0 L646.1,242.2 M646.1,55.9 L646.1,59.699999999999996 M659.3,246.0 L659.3,242.2 M659.3,55.9 L659.3,59.699999999999996 M672.4,246.0 L672.4,238.4 M672.4,55.9 L672.4,63.5 M462.2,246.0 L469.8,246.0 M672.4,246.0 L664.8,246.0 M462.2,222.2 L466.0,222.2 M672.4,222.2 L668.6,222.2 M462.2,198.5 L469.8,198.5 M672.4,198.5 L664.8,198.5 M462.2,174.7 L466.0,174.7 M672.4,174.7 L668.6,174.7 M462.2,150.9 L469.8,150.9 M672.4,150.9 L664.8,150.9 M462.2,127.2 L466.0,127.2 M672.4,127.2 L668.6,127.2 M462.2,103.4 L469.8,103.4 M672.4,103.4 L664.8,103.4 M462.2,79.7 L466.0,79.7 M672.4,79.7 L668.6,79.7 M462.2,55.9 L469.8,55.9 M672.4,55.9 L664.8,55.9" stroke="#000" stroke-width="2.3"/>
<text font-family="'Liberation Sans', sans-serif" font-size="25.5" text-anchor="middle" x="462.2" y="273.7">40</text>
<text font-family="'Liberation Sans', sans-serif" font-size="25.5" text-anchor="middle" x="514.8" y="273.7">50</text>
<text font-family="'Liberation Sans', sans-serif" font-size="25.5" text-anchor="middle" x="567.3" y="273.7">60</text>
<text font-family="'Liberation Sans', sans-serif" font-size="25.5" text-anchor="middle" x="619.9" y="273.7">70</text>
<text font-family="'Liberation Sans', sans-serif" font-size="25.5" text-anchor="middle" x="672.4" y="273.7">80</text>
<text font-family="'Liberation Sans', sans-serif" font-size="25.5" x="684.1" y="255.6">0</text>
<text font-family="'Liberation Sans', sans-serif" font-size="25.5" x="684.1" y="208.1">2</text>
<text font-family="'Liberation Sans', sans-serif" font-size="25.5" x="684.1" y="160.5">4</text>
<text font-family="'Liberation Sans', sans-serif" font-size="25.5" x="684.1" y="113.0">6</text>
<text font-family="'Liberation Sans', sans-serif" font-size="25.5" x="684.1" y="65.5">8</text>
<text font-family="'Liberation Sans', sans-serif" font-size="30.5" x="506.6" y="306.2">E (GPa)</text>
<text font-family="'Liberation Sans', sans-serif" font-size="31" transform="translate(730.8,205.5) rotate(-90)">Counts</text>
<text font-family="'Liberation Sans', sans-serif" font-size="19.3" fill="#FF0080" x="545.6" y="91.9"><tspan font-style="italic">E</tspan> = 56.2 GPa</text>
<text font-family="'Liberation Sans', sans-serif" font-size="19.3" fill="#FF0080" x="545.6" y="115.9"><tspan font-style="italic">&#963;</tspan> = 8.2 GPa</text>
</svg>
</body></html>
